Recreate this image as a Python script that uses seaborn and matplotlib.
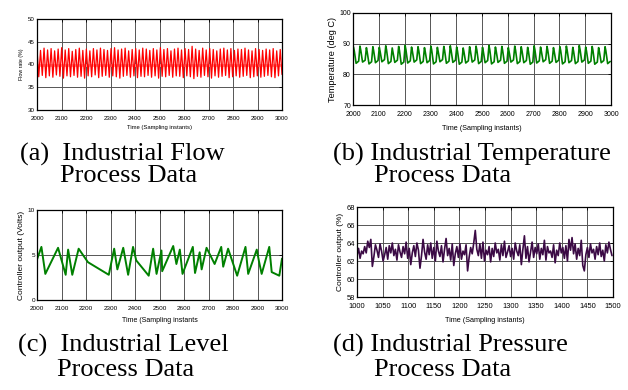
import numpy as np
import pandas as pd
import matplotlib
matplotlib.use("Agg")
import matplotlib.pyplot as plt
import seaborn as sns

# ---- data ----
# (a) flow rate: successive peaks / troughs of the oscillation
flow_peaks = [43.4, 43.1, 43.6, 43.2, 43.5, 43.0, 43.4, 43.7, 43.2, 43.5,
              42.9, 43.3, 43.6, 43.1, 43.4, 43.0, 43.5, 43.2, 43.6, 43.3,
              43.1, 43.5, 43.7, 43.2, 43.4, 43.6, 43.0, 43.3, 43.5, 43.2,
              43.6, 43.4, 43.1, 43.5, 43.2, 43.7, 43.3, 43.5, 43.0, 43.4,
              43.6, 43.2, 43.5, 43.3, 44.0, 43.4, 43.1, 43.6, 43.2, 43.5,
              43.3, 43.0, 43.4, 43.6, 43.2, 43.5, 43.1, 43.4, 43.3, 43.6,
              43.2, 43.0, 43.5, 43.3, 43.1, 43.4, 43.2, 43.5, 43.0, 43.3]
flow_troughs = [37.3, 37.6, 37.1, 37.5, 37.2, 37.7, 37.4, 37.0, 37.5, 37.3,
                37.6, 37.2, 37.4, 37.0, 37.5, 37.3, 37.7, 37.1, 37.4, 37.6,
                37.2, 37.5, 37.3, 37.0, 37.4, 37.6, 37.2, 37.5, 37.1, 37.4,
                37.3, 37.6, 37.2, 37.5, 37.0, 37.4, 37.3, 37.6, 37.2, 37.5,
                37.4, 37.1, 37.5, 37.3, 36.9, 37.4, 37.2, 37.6, 37.3, 37.0,
                37.5, 37.2, 37.4, 37.6, 37.1, 37.3, 37.5, 37.2, 37.4, 37.6,
                37.1, 37.3, 37.5, 37.2, 37.4, 37.6, 37.3, 37.1, 37.5, 37.8]
flow_setpoint = 40.0

# (b) temperature: per cycle peak, knee after peak, low after the fall, shelf before next rise
temp_peaks = [88.9, 89.2, 88.7, 89.0, 88.8, 89.3, 88.6, 89.1, 89.4, 88.9,
              89.0, 88.7, 89.2, 88.8, 89.1, 89.3, 88.9, 88.6, 89.0, 89.2,
              88.8, 89.4, 88.9, 89.1, 88.7, 89.2, 89.0, 88.8, 89.3, 88.9,
              89.1, 88.7, 89.0, 89.2, 88.8, 89.4, 88.9, 89.1, 88.7, 89.0]
temp_knee = [87.6, 87.9, 87.3, 87.7, 87.5, 88.0, 87.2, 87.8, 88.1, 87.6,
             87.7, 87.4, 87.9, 87.5, 87.8, 88.0, 87.6, 87.3, 87.7, 87.9,
             87.5, 88.1, 87.6, 87.8, 87.4, 87.9, 87.7, 87.5, 88.0, 87.6,
             87.8, 87.4, 87.7, 87.9, 87.5, 88.1, 87.6, 87.8, 87.4, 87.7]
temp_lows = [83.6, 84.0, 83.4, 83.8, 84.1, 83.5, 83.9, 83.3, 83.7, 84.0,
             83.5, 83.8, 83.4, 84.1, 83.6, 83.9, 83.3, 83.7, 84.0, 83.5,
             83.8, 83.4, 83.9, 83.6, 84.0, 83.5, 83.8, 83.3, 83.7, 84.1,
             83.6, 83.9, 83.4, 83.8, 83.5, 84.0, 83.6, 83.3, 83.8, 83.5]
temp_shelf = [84.3, 84.6, 84.1, 84.5, 84.8, 84.2, 84.6, 84.0, 84.4, 84.7,
              84.2, 84.5, 84.1, 84.8, 84.3, 84.6, 84.0, 84.4, 84.7, 84.2,
              84.5, 84.1, 84.6, 84.3, 84.7, 84.2, 84.5, 84.0, 84.4, 84.8,
              84.3, 84.6, 84.1, 84.5, 84.2, 84.7, 84.3, 84.0, 84.5, 84.2]

# (c) level controller output: turning points (sample, volts)
level_t = [2000, 2018, 2034, 2086, 2117, 2127, 2144, 2170, 2208, 2293,
           2315, 2328, 2352, 2372, 2392, 2405, 2456, 2474, 2488, 2508,
           2511, 2556, 2569, 2583, 2594, 2636, 2645, 2664, 2672, 2692,
           2725, 2752, 2760, 2780, 2817, 2851, 2862, 2897, 2906, 2917,
           2948, 2958, 2989, 3000]
level_v = [4.5, 5.9, 2.9, 5.8, 2.8, 5.6, 2.8, 5.7, 4.2, 2.8,
           5.7, 3.4, 5.8, 2.8, 5.9, 4.4, 2.7, 5.7, 2.9, 5.5,
           3.2, 6.0, 4.0, 5.6, 2.9, 5.9, 3.0, 5.3, 3.4, 5.8,
           4.0, 5.9, 3.7, 5.7, 2.7, 5.9, 2.9, 5.6, 4.3, 2.9,
           5.9, 3.1, 2.7, 4.6]

# (d) pressure controller output, every 3rd sample from 1000
press_v = [62.6, 63.4, 62.3, 63.1, 62.8, 63.6, 62.9, 64.2, 63.5, 64.4,
           61.4, 62.5, 63.8, 63.2, 62.4, 63.9, 63.1, 62.0, 62.7, 63.5,
           62.2, 63.7, 62.9, 64.0, 62.6, 63.3, 62.1, 63.8, 63.0, 62.4,
           63.6, 62.8, 64.1, 62.3, 63.4, 61.6, 62.9, 63.7, 62.5, 64.0,
           63.2, 61.2, 62.6, 64.4, 63.0, 62.2, 63.8, 62.7, 64.0, 62.3,
           63.5, 62.0, 64.2, 63.1, 62.5, 63.7, 61.9, 63.3, 64.5, 62.6,
           63.4, 62.1, 63.9, 61.5, 62.8, 63.6, 62.4, 63.9, 62.2, 63.1,
           62.7, 63.8, 60.9, 62.4, 63.5, 62.8, 64.0, 65.4, 63.3, 62.6,
           63.9, 62.3, 64.1, 62.0, 63.2, 62.7, 63.6, 61.9, 63.4, 62.5,
           64.0, 62.9, 63.3, 62.1, 63.8, 62.6, 64.2, 62.4, 63.0, 63.7,
           62.5, 63.4, 62.2, 64.0, 63.1, 62.6, 63.8, 61.6, 63.3, 64.8,
           62.3, 63.6, 61.9, 63.0, 64.1, 62.4, 63.5, 62.8, 63.9, 62.2,
           63.4, 62.7, 64.3, 62.1, 63.6, 62.9, 63.1, 62.4, 63.8, 61.8,
           63.2, 62.6, 64.0, 62.9, 63.5, 62.3, 63.7, 62.0, 64.4, 63.2,
           64.6, 62.8, 63.9, 62.2, 63.4, 62.6, 64.3, 61.5, 60.9, 62.7,
           63.5, 62.4, 63.9, 62.9, 63.3, 62.2, 63.6, 62.7, 64.0, 62.5,
           63.2, 62.0, 63.8, 62.9, 64.1, 63.3, 62.6]

# ---- build series ----
flow_v = [v for pair in zip(flow_peaks, flow_troughs) for v in pair]
flow_df = pd.DataFrame({"t": np.linspace(2000, 3000, len(flow_v)), "v": flow_v})

cyc = np.arange(len(temp_peaks)) * 25 + 2002
temp_df = pd.DataFrame({
    "t": np.concatenate([cyc, cyc + 3, cyc + 10, cyc + 20]),
    "v": temp_peaks + temp_knee + temp_lows + temp_shelf,
}).sort_values("t")
temp_df = temp_df[temp_df.t <= 3000]

level_df = pd.DataFrame({"t": level_t, "v": level_v})
press_df = pd.DataFrame({"t": 1000 + 3 * np.arange(len(press_v)), "v": press_v})

# ---- figure ----
sns.set_style("white")
plt.rcParams["font.family"] = ["Liberation Sans", "DejaVu Sans"]
plt.rcParams["text.color"] = "black"
plt.rcParams["axes.labelcolor"] = "black"
plt.rcParams["xtick.color"] = "black"
plt.rcParams["ytick.color"] = "black"
W, H = 628, 390
fig = plt.figure(figsize=(W / 100, H / 100), dpi=100)


def box(l, t, r, b):
    return [l / W, 1 - b / H, (r - l) / W, (b - t) / H]


def style(ax, xlim, ylim, xticks, yticks, tfs):
    ax.set_xlim(*xlim)
    ax.set_ylim(*ylim)
    ax.set_xticks(xticks)
    ax.set_yticks(yticks)
    ax.grid(True, color="#555555", linewidth=0.7)
    ax.set_axisbelow(True)
    ax.tick_params(direction="in", top=True, right=True, length=2,
                   width=0.6, labelsize=tfs, pad=1.5)
    ax.tick_params(axis="x", pad=4)
    for s in ax.spines.values():
        s.set_color("black")
        s.set_linewidth(0.9)


# (a)
ax = fig.add_axes(box(37, 19, 282, 110))
ax.axhline(flow_setpoint, color="#ff9d9d", linewidth=2.0, zorder=1)
sns.lineplot(data=flow_df, x="t", y="v", ax=ax, color="#ff0000", linewidth=0.9)
style(ax, (2000, 3000), (30, 50), range(2000, 3001, 100), range(30, 51, 5), 4.4)
ax.set_ylabel("Flow rate (%)", fontsize=3.8, labelpad=3)
ax.set_xlabel("Time (Sampling instants)", fontsize=4.2, labelpad=3)

# (b)
ax = fig.add_axes(box(353, 13, 611, 105))
sns.lineplot(data=temp_df, x="t", y="v", ax=ax, color="#008000", linewidth=1.2)
style(ax, (2000, 3000), (70, 100), range(2000, 3001, 100), range(70, 101, 10), 5.0)
ax.set_ylabel("Temperature (deg C)", fontsize=6.6, labelpad=2)
ax.set_xlabel("Time (Sampling instants)", fontsize=5.2, labelpad=5)

# (c)
ax = fig.add_axes(box(37, 210, 282, 300))
sns.lineplot(data=level_df, x="t", y="v", ax=ax, color="#008000", linewidth=1.4)
style(ax, (2000, 3000), (0, 10), range(2000, 3001, 100), [0, 5, 10], 4.6)
ax.set_ylabel("Controller output (Volts)", fontsize=6.0, labelpad=2)
ax.set_xlabel("Time (Sampling instants", fontsize=5.0, labelpad=5)

# (d)
ax = fig.add_axes(box(357, 207, 613, 297))
sns.lineplot(data=press_df, x="t", y="v", ax=ax, color="#3b0a45", linewidth=1.2)
style(ax, (1000, 1500), (58, 68), range(1000, 1501, 50), range(58, 69, 2), 5.4)
ax.set_ylabel("Controller output (%)", fontsize=6.0, labelpad=2)
ax.set_xlabel("Time (Sampling instants)", fontsize=5.2, labelpad=5)

# captions
cap = dict(fontsize=19, family=["Liberation Serif", "DejaVu Serif"], va="baseline")
fig.text(20 / W, 1 - 161 / H, "(a)  Industrial Flow", **cap)
fig.text(60 / W, 1 - 182 / H, "Process Data", **cap)
fig.text(333 / W, 1 - 161 / H, "(b) Industrial Temperature", **cap)
fig.text(374 / W, 1 - 182 / H, "Process Data", **cap)
fig.text(18 / W, 1 - 352 / H, "(c)  Industrial Level", **cap)
fig.text(57 / W, 1 - 376 / H, "Process Data", **cap)
fig.text(333 / W, 1 - 352 / H, "(d) Industrial Pressure", **cap)
fig.text(374 / W, 1 - 376 / H, "Process Data", **cap)

fig.savefig("out.png", dpi=100)
